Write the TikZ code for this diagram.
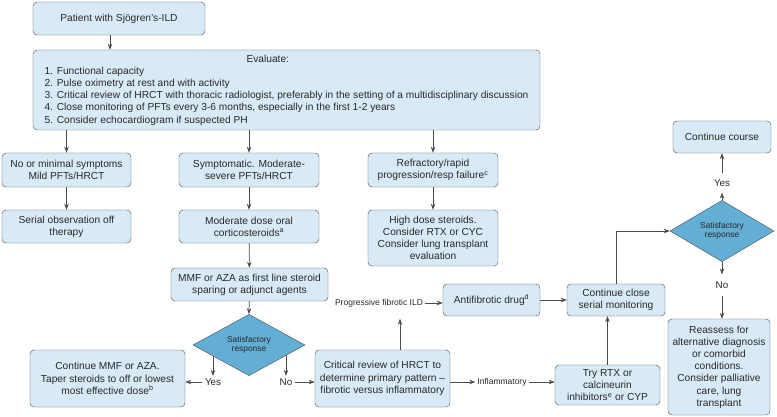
\documentclass[tikz,border=0pt]{standalone}
\usepackage{fontspec}
\setmainfont{Liberation Sans}
\usepackage{xcolor}
\definecolor{boxfill}{RGB}{217,234,247}
\definecolor{diafill}{RGB}{99,174,213}
\definecolor{linegray}{RGB}{75,75,75}
\definecolor{textgray}{RGB}{40,40,40}
\usepackage{tikz}
\usetikzlibrary{arrows.meta,shapes.geometric,backgrounds}

\begin{document}
\begin{tikzpicture}[x=1pt,y=-1pt,
  box/.style={draw=linegray,fill=boxfill,rounded corners=4pt,align=center,inner sep=2pt,text=textgray,font=\fontsize{10.2}{12.2}\selectfont},
  dia/.style={draw=linegray,fill=diafill,diamond,inner sep=0pt,align=center,text=textgray,font=\fontsize{8.4}{9.6}\selectfont},
  lbl/.style={text=textgray,inner sep=2pt,font=\fontsize{8.5}{10}\selectfont},
  yn/.style={text=textgray,inner sep=2.5pt,font=\fontsize{9.8}{11}\selectfont},
  arr/.style={draw=linegray,line width=0.75pt,-{Stealth[length=6pt,width=4.5pt]}}]
  \useasboundingbox (0,0) rectangle (777,417);

  % top of the chart
  \node[box,minimum width=172pt,minimum height=33pt] (patient) at (119,18.5) {Patient with Sjögren's-ILD};
  \node[box,minimum width=507pt,minimum height=80pt,align=left] (eval) at (286.5,90)
    {\hspace*{202pt}Evaluate:\\
     1. Functional capacity\\
     2. Pulse oximetry at rest and with activity\\
     3. Critical review of HRCT with thoracic radiologist, preferably in the setting of a multidisciplinary discussion\\
     4. Close monitoring of PFTs every 3-6 months, especially in the first 1-2 years\\
     5. Consider echocardiogram if suspected PH};

  % the three branches
  \node[box,minimum width=129pt,minimum height=34pt] (mild) at (66.5,170) {No or minimal symptoms\\Mild PFTs/HRCT};
  \node[box,minimum width=140pt,minimum height=34pt] (sympt) at (249,170) {Symptomatic. Moderate-\\severe PFTs/HRCT};
  \node[box,minimum width=130pt,minimum height=34pt] (refract) at (433,170) {Refractory/rapid\\progression/resp failure\textsuperscript{c}};
  \node[box,minimum width=129pt,minimum height=33pt] (observe) at (66.5,226.5) {Serial observation off\\therapy};
  \node[box,minimum width=140pt,minimum height=33pt] (steroid) at (249,226.5) {Moderate dose oral\\corticosteroids\textsuperscript{a}};
  \node[box,minimum width=130pt,minimum height=56pt] (highdose) at (433,238) {High dose steroids.\\Consider RTX or CYC\\Consider lung transplant\\evaluation};
  \node[box,minimum width=157pt,minimum height=33pt] (mmf) at (249.5,284.5) {MMF or AZA as first line steroid\\sparing or adjunct agents};

  % first decision
  \node[dia,minimum width=112pt,minimum height=42pt] (resp) at (249,345) {Satisfactory\\response};
  \node[yn] (yesa) at (213,382) {Yes};
  \node[yn] (noa) at (286,382) {No};
  \node[box,minimum width=155pt,minimum height=57pt] (taper) at (107.5,378.5) {Continue MMF or AZA.\\Taper steroids to off or lowest\\most effective dose\textsuperscript{b}};
  \node[box,minimum width=135pt,minimum height=57pt] (review) at (382.5,378.5) {Critical review of HRCT to\\determine primary pattern --\\fibrotic versus inflammatory};

  % fibrotic and inflammatory paths
  \node[lbl] (fibro) at (379,303) {Progressive fibrotic ILD};
  \node[lbl] (inflam) at (502,382) {Inflammatory};
  \node[box,minimum width=97pt,minimum height=32pt] (antifib) at (491.5,300) {Antifibrotic drug\textsuperscript{d}};
  \node[box,minimum width=98pt,minimum height=32pt] (monitor) at (616,300) {Continue close\\serial monitoring};
  \node[box,minimum width=105pt,minimum height=40pt] (rtx) at (607.5,385) {Try RTX or\\calcineurin\\inhibitors\textsuperscript{e} or CYP};

  % second decision
  \node[dia,minimum width=104pt,minimum height=42pt] (respb) at (722,231) {Satisfactory\\response};
  \node[yn,inner ysep=6pt] (yesb) at (722,183) {Yes};
  \node[yn,inner ysep=7pt] (nob) at (722,285) {No};
  \node[box,minimum width=98pt,minimum height=32pt] (course) at (722,137) {Continue course};
  \node[box,minimum width=102pt,minimum height=96pt] (reassess) at (719,367) {Reassess for\\alternative diagnosis\\or comorbid\\conditions.\\Consider palliative\\care, lung\\transplant};

\begin{pgfonlayer}{background}
  \draw[arr] (patient.south -| 110,0) -- (eval.north -| 110,0);
  \foreach \n in {mild,sympt,refract}
    \draw[arr] (eval.south -| \n.north) -- (\n.north);
  \draw[arr] (mild) -- (observe);
  \draw[arr] (sympt) -- (steroid);
  \draw[arr] (refract) -- (highdose);
  \draw[arr] (steroid) -- (mmf);
  \draw[arr] (mmf) -- (resp.north);
    % yes / no out of the first diamond
  \draw[arr] (resp.center -| yesa.north) -- (yesa.north);
  \draw[arr] (resp.center -| noa.north) -- (noa.north);
  \draw[arr] (yesa.west) -- (yesa.west -| taper.east);
  \draw[arr] (noa.east) -- (noa.east -| review.west);
  \draw[arr] ([xshift=17.5pt]review.north) -- ++(0,-31);
  \draw[arr] (fibro.east) -- (fibro.east -| antifib.west);
  \draw[arr] (inflam.west -| review.east) -- (inflam.west);
  \draw[arr] (inflam.east) -- (inflam.east -| rtx.west);
  \draw[arr] (antifib) -- (monitor);
  \draw[arr] (rtx.north) -- (rtx.north |- monitor.south);
  \draw[arr] (monitor.north) |- (respb.west);
    % yes / no out of the second diamond
  \draw[arr] (respb.north) -- (yesb.south);
  \draw[arr] (yesb.north) -- (course.south);
  \draw[arr] (respb.south) -- (nob.north);
  \draw[arr] (nob.south) -- (nob.south |- reassess.north);
\end{pgfonlayer}
\end{tikzpicture}
\end{document}
